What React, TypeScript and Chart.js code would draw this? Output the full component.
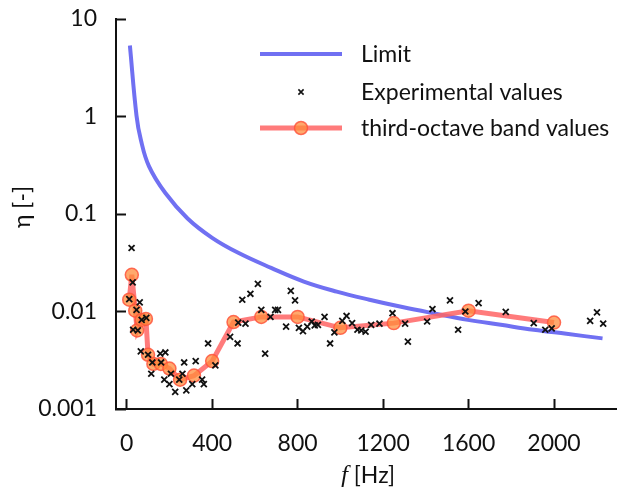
import React, { useEffect, useRef } from 'react';
import { Chart, registerables } from 'chart.js';

Chart.register(...registerables);

// ---------- data ----------
const limitFreq = [15, 46, 66, 104, 181, 285, 400, 522, 676, 829, 983, 1136, 1290, 1444, 1597, 1751, 1905, 2058, 2227];
const limitEta = [5.35, 1.02, 0.58, 0.31, 0.164, 0.09, 0.057, 0.04, 0.028, 0.0203, 0.016, 0.0132, 0.0111, 0.0095, 0.0082, 0.0073, 0.0065, 0.0059, 0.0053];

const expFreq = [
  12, 23, 28, 30, 46, 52, 61, 66, 70, 92, 100, 115, 120, 157, 161, 176, 181, 200, 207, 227,
  246, 261, 269, 279, 307, 323, 353, 361, 381, 415, 484, 519, 522, 541, 556, 579, 614, 630, 648, 673,
  695, 708, 746, 768, 788, 806, 825, 845, 866, 880, 895, 926, 952, 972, 1009, 1029, 1055, 1080, 1098, 1118,
  1144, 1183, 1244, 1303, 1316, 1406, 1431, 1513, 1551, 1585, 1647, 1774, 1905, 1959, 1989, 2169, 2201, 2230,
];
const expEta = [
  0.0134, 0.0448, 0.0199, 0.0065, 0.0104, 0.0064, 0.0124, 0.0039, 0.0082, 0.0086, 0.0036, 0.0023, 0.003, 0.0037, 0.003, 0.002, 0.0038, 0.0018, 0.0023, 0.0015,
  0.002, 0.0023, 0.003, 0.00155, 0.0018, 0.0031, 0.002, 0.0018, 0.0047, 0.0028, 0.0055, 0.0047, 0.0077, 0.0132, 0.0075, 0.0152, 0.0192, 0.0104, 0.0037, 0.0088,
  0.0104, 0.0104, 0.007, 0.0163, 0.013, 0.0068, 0.0063, 0.007, 0.0079, 0.0072, 0.0073, 0.0088, 0.0047, 0.0061, 0.008, 0.009, 0.0076, 0.0065, 0.0064, 0.0062,
  0.0073, 0.0075, 0.0096, 0.0075, 0.0049, 0.0079, 0.0106, 0.013, 0.0065, 0.01, 0.0122, 0.0099, 0.0076, 0.0065, 0.0067, 0.008, 0.0098, 0.0075,
];

const bandFreq = [12, 24, 40, 49, 70, 90, 100, 125, 160, 200, 250, 315, 400, 500, 630, 800, 1000, 1250, 1600, 2000];
const bandEta = [0.0132, 0.0238, 0.0102, 0.0064, 0.0082, 0.0084, 0.0036, 0.0029, 0.0029, 0.0026, 0.002, 0.0022, 0.0031, 0.0078, 0.0088, 0.0088, 0.0068, 0.0076, 0.0102, 0.0077];

const xTicks = [0, 400, 800, 1200, 1600, 2000];
const yTicks = [0.001, 0.01, 0.1, 1, 10];

const legendLabels = ['Limit', 'Experimental values', 'third-octave band values'];
const xTitleItalic = 'f';
const xTitleRest = ' [Hz]';
const yTitle = 'η [-]';

// ---------- styles ----------
const FONT = 'Lato, "Open Sans", sans-serif';
const FONT_SIZE = 23;
const TEXT = '#111111';
const BLUE = 'rgb(112,112,242)';
const RED_LINE = 'rgba(255,100,100,0.85)';
const DOT_FILL = 'rgba(255,140,60,0.75)';
const DOT_BORDER = 'rgba(255,85,60,0.85)';
const CROSS = '#111111';

const overlayPlugin = {
  id: 'overlay',
  afterDraw(chart: any) {
    const ctx = chart.ctx as CanvasRenderingContext2D;
    ctx.save();
    // legend
    const lx0 = 260, lx1 = 342, tx = 361;
    const rows = [54, 92, 128];
    ctx.font = `${FONT_SIZE}px ${FONT}`;
    ctx.fillStyle = TEXT;
    ctx.textBaseline = 'middle';
    ctx.textAlign = 'left';
    // row 1
    ctx.strokeStyle = BLUE;
    ctx.lineWidth = 4;
    ctx.lineCap = 'butt';
    ctx.beginPath(); ctx.moveTo(lx0, rows[0]); ctx.lineTo(lx1, rows[0]); ctx.stroke();
    ctx.fillText(legendLabels[0], tx, rows[0] + 1);
    // row 2
    const cx = (lx0 + lx1) / 2;
    const r = 2.6;
    ctx.strokeStyle = CROSS;
    ctx.lineWidth = 1.6;
    ctx.beginPath();
    ctx.moveTo(cx - r, rows[1] - r); ctx.lineTo(cx + r, rows[1] + r);
    ctx.moveTo(cx - r, rows[1] + r); ctx.lineTo(cx + r, rows[1] - r);
    ctx.stroke();
    ctx.fillText(legendLabels[1], tx, rows[1] + 1);
    // row 3
    ctx.strokeStyle = RED_LINE;
    ctx.lineWidth = 5;
    ctx.beginPath(); ctx.moveTo(lx0, rows[2]); ctx.lineTo(lx1, rows[2]); ctx.stroke();
    ctx.beginPath(); ctx.arc(cx, rows[2], 6.5, 0, Math.PI * 2);
    ctx.fillStyle = DOT_FILL; ctx.fill();
    ctx.strokeStyle = DOT_BORDER; ctx.lineWidth = 1.5; ctx.stroke();
    ctx.fillStyle = TEXT;
    ctx.fillText(legendLabels[2], tx, rows[2] + 1);

    // x title with italic f
    const italicFont = `italic 25px "Liberation Serif", serif`;
    const restFont = `${FONT_SIZE}px ${FONT}`;
    ctx.font = italicFont;
    const w1 = ctx.measureText(xTitleItalic).width;
    ctx.font = restFont;
    const w2 = ctx.measureText(xTitleRest).width;
    const cxT = 368;
    const baseY = 483;
    ctx.textBaseline = 'alphabetic';
    ctx.font = italicFont;
    ctx.fillText(xTitleItalic, cxT - (w1 + w2) / 2, baseY);
    ctx.font = restFont;
    ctx.fillText(xTitleRest, cxT - (w1 + w2) / 2 + w1, baseY);

    // y title
    ctx.translate(23, 207);
    ctx.rotate(-Math.PI / 2);
    ctx.textAlign = 'center';
    ctx.textBaseline = 'middle';
    ctx.font = restFont;
    ctx.fillText(yTitle, 0, 0);
    ctx.restore();
  },
};

export default function App() {
  const ref = useRef<HTMLCanvasElement | null>(null);
  useEffect(() => {
    if (!ref.current) return;
    const chart = new Chart(ref.current, {
      type: 'scatter',
      data: {
        datasets: [
          {
            label: legendLabels[1],
            data: expFreq.map((f, i) => ({ x: f, y: expEta[i] })),
            showLine: false,
            pointStyle: 'crossRot',
            pointRadius: 4.2,
            pointBorderWidth: 1.8,
            pointBorderColor: CROSS,
            pointBackgroundColor: CROSS,
            order: 0,
          } as any,
          {
            label: legendLabels[2],
            data: bandFreq.map((f, i) => ({ x: f, y: bandEta[i] })),
            showLine: true,
            borderColor: RED_LINE,
            borderWidth: 5,
            pointRadius: 6.5,
            pointBackgroundColor: DOT_FILL,
            pointBorderColor: DOT_BORDER,
            pointBorderWidth: 1.5,
            tension: 0,
            order: 1,
          } as any,
          {
            label: legendLabels[0],
            data: limitFreq.map((f, i) => ({ x: f, y: limitEta[i] })),
            showLine: true,
            borderColor: BLUE,
            borderWidth: 4,
            pointRadius: 0,
            tension: 0.4,
            order: 2,
          } as any,
        ],
      },
      options: {
        responsive: false,
        animation: false,
        events: [],
        layout: { padding: { top: 19, right: 0, left: 0, bottom: 0 } },
        plugins: { legend: { display: false }, tooltip: { enabled: false } },
        scales: {
          x: {
            type: 'linear',
            min: -50,
            max: 2290,
            afterBuildTicks: (s: any) => { s.ticks = xTicks.map((v) => ({ value: v })); },
            afterFit: (s: any) => {
              s.height = 78;
              s.paddingLeft = 0; s.paddingRight = 0; s.paddingTop = 0; s.paddingBottom = 0;
            },
            ticks: {
              font: { family: FONT, size: FONT_SIZE },
              color: TEXT,
              padding: 31,
              maxRotation: 0,
              autoSkip: false,
              callback: (v: any) => String(v),
            },
            grid: { drawOnChartArea: false, tickLength: -10, tickWidth: 2, tickColor: TEXT },
            border: { color: TEXT, width: 2 },
          },
          y: {
            type: 'logarithmic',
            min: 0.001,
            max: 10,
            afterBuildTicks: (s: any) => { s.ticks = yTicks.map((v) => ({ value: v })); },
            afterFit: (s: any) => {
              s.width = 116;
              s.paddingLeft = 0; s.paddingRight = 0; s.paddingTop = 0; s.paddingBottom = 0;
            },
            ticks: {
              font: { family: FONT, size: FONT_SIZE },
              color: TEXT,
              padding: 29,
              autoSkip: false,
              callback: (v: any) => String(v),
            },
            grid: { drawOnChartArea: false, tickLength: -10, tickWidth: 2, tickColor: TEXT },
            border: { color: TEXT, width: 2 },
          },
        },
      } as any,
      plugins: [overlayPlugin],
    });
    return () => chart.destroy();
  }, []);
  return (
    <div style={{ position: 'absolute', left: 0, top: 0, width: 624, height: 487, background: '#fff' }}>
      <canvas ref={ref} width={624} height={487} style={{ display: 'block' }} />
    </div>
  );
}
